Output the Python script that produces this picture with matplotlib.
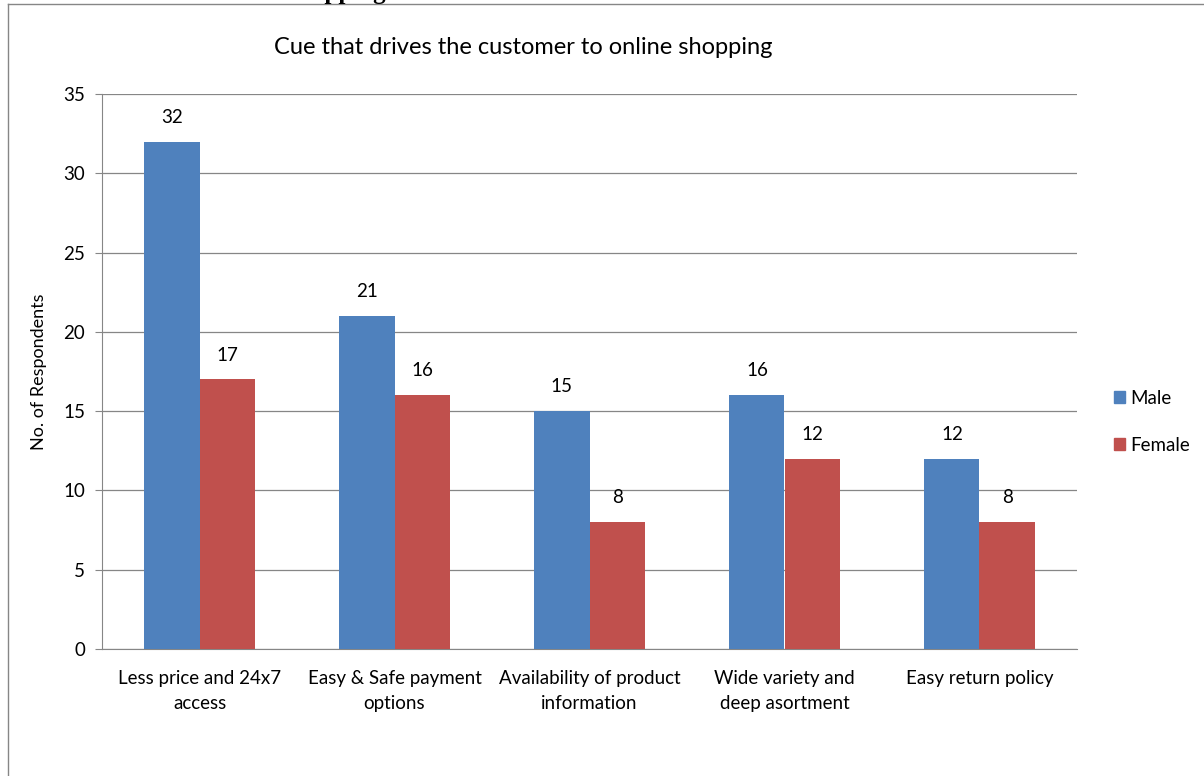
import numpy as np
import matplotlib.pyplot as plt
from matplotlib.lines import Line2D

# data
categories = ['Less price and 24x7\naccess', 'Easy & Safe payment\noptions',
              'Availability of product\ninformation', 'Wide variety and\ndeep asortment',
              'Easy return policy']
male = [32, 21, 15, 16, 12]
female = [17, 16, 8, 12, 8]
yticks = [0, 5, 10, 15, 20, 25, 30, 35]

plt.rcParams['font.family'] = ['Lato', 'DejaVu Sans']

fig = plt.figure(figsize=(12.04, 7.76), dpi=100)
ax = fig.add_axes([102/1204, 1-649/776, 975/1204, 555/776])

x = np.arange(len(categories))
w = 0.283
b1 = ax.bar(x - w/2, male, w, color='#4F81BD', label='Male', zorder=3)
b2 = ax.bar(x + w/2, female, w, color='#C0504D', label='Female', zorder=3)

for bars in (b1, b2):
    for r in bars:
        ax.annotate(str(int(r.get_height())), (r.get_x() + r.get_width()/2, r.get_height()),
                    xytext=(0, 17.5), textcoords='offset points', ha='center', va='center',
                    fontsize=13.5, color='#000000')

ax.set_xlim(-0.5, len(categories) - 0.5)
ax.set_ylim(0, 35)
ax.set_yticks(yticks)
ax.set_xticks(x)
ax.set_xticklabels(categories, fontsize=13.5, linespacing=1.55)
ax.tick_params(axis='x', length=0, pad=15)
ax.tick_params(axis='y', length=5, color='#868686', labelsize=13.5, pad=7)
ax.yaxis.grid(True, color='#868686', linewidth=0.9, zorder=0)
for s in ['top', 'right']:
    ax.spines[s].set_visible(False)
ax.spines['left'].set_color('#868686')
ax.spines['bottom'].set_color('#868686')
ax.set_ylabel('No. of Respondents', fontsize=13, labelpad=12)

fig.text(523/1204, 1-47/776, 'Cue that drives the customer to online shopping',
         ha='center', va='center', fontsize=17)

# legend
handles = [plt.Rectangle((0, 0), 1, 1, color='#4F81BD'),
           plt.Rectangle((0, 0), 1, 1, color='#C0504D')]
fig.legend(handles, ['Male', 'Female'], loc='center left',
           bbox_to_anchor=(1097/1204, 1-422/776), frameon=False, fontsize=13.5,
           handlelength=0.6, handleheight=0.6, handletextpad=0.3, labelspacing=1.6)

# outer chart frame (partially cut)
fig.add_artist(Line2D([8/1204, 8/1204], [0, 1-4/776], transform=fig.transFigure,
                      color='#868686', linewidth=1))
fig.add_artist(Line2D([8/1204, 1], [1-4/776, 1-4/776], transform=fig.transFigure,
                      color='#868686', linewidth=1))

# fragment of the page heading above the chart, cut by the page edge
fig.text(335/1204, 1+1/776, 'Shopping', ha='center', va='baseline',
         fontsize=18, fontweight='bold', family='Liberation Serif')

fig.savefig('out.png', dpi=100)
